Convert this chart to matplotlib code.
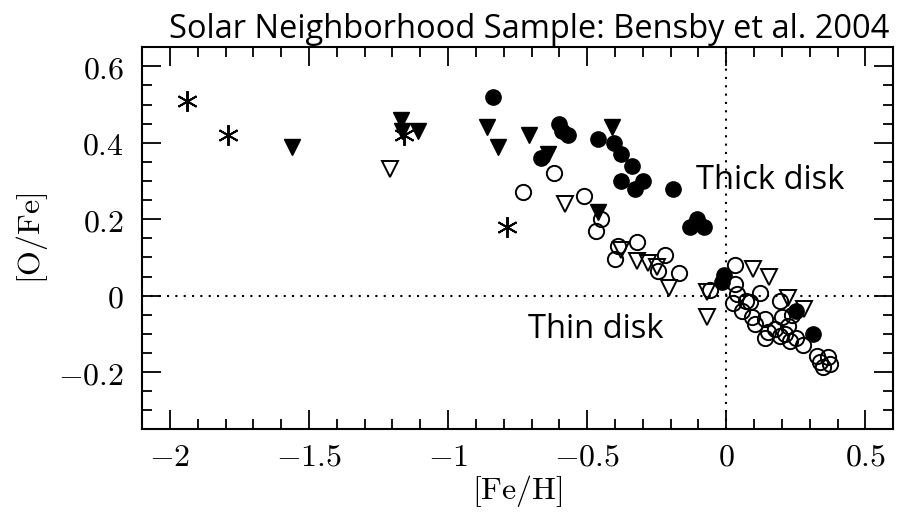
import numpy as np
import matplotlib.pyplot as plt
from matplotlib.ticker import MultipleLocator, FuncFormatter

plt.rcParams['mathtext.fontset'] = 'cm'

# thick disk stars (filled circles)
thick_feh = [-0.84, -0.60, -0.59, -0.57, -0.665, -0.46, -0.405, -0.38, -0.34, -0.38,
             -0.33, -0.30, -0.19, -0.13, -0.105, -0.08, -0.01, -0.015, 0.25, 0.31]
thick_ofe = [0.52, 0.45, 0.43, 0.42, 0.36, 0.41, 0.40, 0.37, 0.34, 0.30,
             0.28, 0.30, 0.28, 0.18, 0.20, 0.18, 0.055, 0.035, -0.04, -0.10]

# thick disk (filled triangles)
thick_tri_feh = [-1.56, -1.17, -1.165, -1.11, -0.86, -0.82, -0.71, -0.64, -0.41, -0.46]
thick_tri_ofe = [0.39, 0.46, 0.43, 0.43, 0.44, 0.39, 0.42, 0.37, 0.44, 0.22]

# thin disk stars (open circles)
thin_feh = [-0.73, -0.62, -0.51, -0.45, -0.47, -0.39, -0.32, -0.40, -0.22, -0.245,
            -0.17, -0.06, 0.03, 0.03, 0.04, 0.025, 0.07, 0.058, 0.12, 0.086,
            0.094, 0.104, 0.14, 0.15, 0.14, 0.176, 0.194, 0.20, 0.194, 0.21,
            0.22, 0.237, 0.23, 0.25, 0.277, 0.327, 0.367, 0.338, 0.374, 0.349]
thin_ofe = [0.27, 0.32, 0.26, 0.20, 0.17, 0.13, 0.14, 0.095, 0.105, 0.065,
            0.06, 0.015, 0.08, 0.03, 0.005, -0.02, -0.015, -0.04, 0.008, -0.018,
            -0.057, -0.075, -0.062, -0.096, -0.11, -0.088, -0.015, -0.057, -0.106, -0.10,
            -0.08, -0.05, -0.12, -0.11, -0.13, -0.158, -0.161, -0.174, -0.18, -0.187]

# thin disk (open triangles)
thin_tri_feh = [-1.21, -0.58, -0.38, -0.32, -0.28, -0.25, -0.205, -0.07, -0.07,
                0.095, 0.155, 0.22, 0.28]
thin_tri_ofe = [0.33, 0.24, 0.12, 0.09, 0.085, 0.075, 0.02, 0.01, -0.055,
                0.07, 0.05, -0.005, -0.035]

# halo-like stars (asterisks)
halo_feh = [-1.94, -1.79, -1.16, -0.79]
halo_ofe = [0.51, 0.42, 0.42, 0.18]

fig = plt.figure(figsize=(9.05, 5.13), dpi=100)
ax = fig.add_axes([0.157, 0.163, 0.830, 0.745])

ms = 11
ax.axhline(0, color='black', linestyle=(0, (1, 3)), linewidth=1.5, zorder=1)
ax.axvline(0, color='black', linestyle=(0, (1, 3)), linewidth=1.5, zorder=1)

ax.plot(thin_feh, thin_ofe, 'o', ms=ms, mfc='none', mec='black', mew=1.4, zorder=2)
ax.plot(thin_tri_feh, thin_tri_ofe, 'v', ms=ms, mfc='none', mec='black', mew=1.4, zorder=2)
ax.plot(thick_feh, thick_ofe, 'o', ms=ms, mfc='black', mec='black', mew=1, zorder=3)
ax.plot(thick_tri_feh, thick_tri_ofe, 'v', ms=ms, mfc='black', mec='black', mew=1, zorder=3)
ax.plot(halo_feh, halo_ofe, marker=(6, 2, 0), ls='none', ms=15, mec='black', mew=1.4, zorder=3)

ax.set_xlim(-2.1, 0.6)
ax.set_ylim(-0.35, 0.65)

ax.xaxis.set_major_locator(MultipleLocator(0.5))
ax.xaxis.set_minor_locator(MultipleLocator(0.1))
ax.yaxis.set_major_locator(MultipleLocator(0.2))
ax.yaxis.set_minor_locator(MultipleLocator(0.05))

fmt = FuncFormatter(lambda v, p: '$%g$' % round(v, 2))
ax.xaxis.set_major_formatter(fmt)
ax.yaxis.set_major_formatter(fmt)

ax.tick_params(which='both', direction='in', top=True, right=True, width=1.3, labelsize=23)
ax.tick_params(which='major', length=14)
ax.tick_params(which='minor', length=7)
ax.tick_params(axis='x', which='major', pad=9)
ax.tick_params(axis='y', which='major', pad=13)
for s in ax.spines.values():
    s.set_linewidth(1.5)

ax.set_xlabel(r'$[\mathrm{Fe/H}]$', fontsize=23, labelpad=0)
ax.set_ylabel(r'$[\mathrm{O/Fe}]$', fontsize=23, labelpad=6)

fig.text(0.983, 0.926, 'Solar Neighborhood Sample: Bensby et al. 2004',
         ha='right', va='baseline', fontsize=23.5, family='Open Sans')
ax.text(-0.11, 0.30, 'Thick disk', fontsize=23.5, family='Open Sans', va='center')
ax.text(-0.712, -0.088, 'Thin disk', fontsize=23.5, family='Open Sans', va='center')

fig.savefig('out.png', dpi=100)
